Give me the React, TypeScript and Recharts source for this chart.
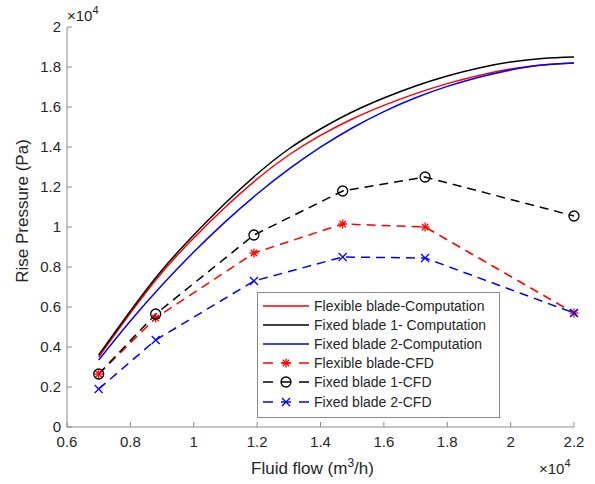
import { Legend, Line, LineChart, XAxis, YAxis } from "recharts";

// computation curves, read at 0.1e4 steps of flow
const flowGrid = [
  7000, 8000, 9000, 10000, 11000, 12000, 13000, 14000, 15000, 16000, 17000,
  18000, 19000, 20000, 21000, 22000,
];
const flexibleComputation = [
  3500, 5700, 7730, 9450, 11000, 12400, 13600, 14580, 15400, 16080, 16670,
  17170, 17580, 17900, 18100, 18200,
];
const fixed1Computation = [
  3600, 5800, 7850, 9600, 11200, 12650, 13900, 14900, 15750, 16450, 17050,
  17550, 17950, 18250, 18430, 18500,
];
const fixed2Computation = [
  3350, 5300, 7100, 8750, 10270, 11650, 12890, 13990, 14950, 15770, 16460,
  17030, 17490, 17850, 18100, 18200,
];

// CFD points
const cfdFlow = [7000, 8800, 11900, 14700, 17300, 22000];
const flexibleCfd = [2650, 5450, 8700, 10150, 10000, 5700];
const fixed1Cfd = [2650, 5650, 9600, 11800, 12500, 10550];
const fixed2Cfd = [1900, 4350, 7300, 8500, 8450, 5700];

const xTicks = [6000, 8000, 10000, 12000, 14000, 16000, 18000, 20000, 22000];
const yTicks = [0, 2000, 4000, 6000, 8000, 10000, 12000, 14000, 16000, 18000, 20000];

const FONT = "'Liberation Sans', Arial, Helvetica, sans-serif";
const TEXT = "#262626";
const AXIS = "#8a8a8a";
const TICK_MARGIN = 6;
const TICK_LEN = 5;

const toRows = (xs: number[], ys: number[]) =>
  xs.map((x, i) => ({ x, y: ys[i] }));

type MarkerKind = "none" | "star" | "circle" | "cross";

function Marker({
  kind,
  cx,
  cy,
  color,
}: {
  kind: MarkerKind;
  cx: number;
  cy: number;
  color: string;
}) {
  if (kind === "circle") {
    return (
      <circle cx={cx} cy={cy} r={5} fill="none" stroke={color} strokeWidth={1.3} />
    );
  }
  if (kind === "cross") {
    const r = 4;
    return (
      <g stroke={color} strokeWidth={1.3}>
        <line x1={cx - r} y1={cy - r} x2={cx + r} y2={cy + r} />
        <line x1={cx - r} y1={cy + r} x2={cx + r} y2={cy - r} />
      </g>
    );
  }
  if (kind === "star") {
    const r = 4.5;
    const d = r * 0.72;
    return (
      <g stroke={color} strokeWidth={1.3}>
        <line x1={cx - r} y1={cy} x2={cx + r} y2={cy} />
        <line x1={cx} y1={cy - r} x2={cx} y2={cy + r} />
        <line x1={cx - d} y1={cy - d} x2={cx + d} y2={cy + d} />
        <line x1={cx - d} y1={cy + d} x2={cx + d} y2={cy - d} />
      </g>
    );
  }
  return null;
}

const series = [
  {
    name: "Flexible blade-Computation",
    color: "#ff0000",
    dashed: false,
    marker: "none" as MarkerKind,
    rows: toRows(flowGrid, flexibleComputation),
  },
  {
    name: "Fixed blade 1- Computation",
    color: "#000000",
    dashed: false,
    marker: "none" as MarkerKind,
    rows: toRows(flowGrid, fixed1Computation),
  },
  {
    name: "Fixed blade 2-Computation",
    color: "#0000ff",
    dashed: false,
    marker: "none" as MarkerKind,
    rows: toRows(flowGrid, fixed2Computation),
  },
  {
    name: "Flexible blade-CFD",
    color: "#ff0000",
    dashed: true,
    marker: "star" as MarkerKind,
    rows: toRows(cfdFlow, flexibleCfd),
  },
  {
    name: "Fixed blade 1-CFD",
    color: "#000000",
    dashed: true,
    marker: "circle" as MarkerKind,
    rows: toRows(cfdFlow, fixed1Cfd),
  },
  {
    name: "Fixed blade 2-CFD",
    color: "#0000ff",
    dashed: true,
    marker: "cross" as MarkerKind,
    rows: toRows(cfdFlow, fixed2Cfd),
  },
];

const fmt = (v: number) => String(v / 10000);

function YTick(props: any) {
  const { x, y, payload } = props;
  const ax = x + TICK_MARGIN;
  return (
    <g>
      <line x1={ax} y1={y} x2={ax + TICK_LEN} y2={y} stroke={AXIS} />
      <text
        x={x}
        y={y}
        dy="0.36em"
        textAnchor="end"
        fill={TEXT}
        fontSize={15}
        fontFamily={FONT}
      >
        {fmt(payload.value)}
      </text>
    </g>
  );
}

function XTick(props: any) {
  const { x, y, payload } = props;
  const ay = y - TICK_MARGIN;
  return (
    <g>
      <line x1={x} y1={ay} x2={x} y2={ay - TICK_LEN} stroke={AXIS} />
      <text
        x={x}
        y={y}
        dy="0.9em"
        textAnchor="middle"
        fill={TEXT}
        fontSize={15}
        fontFamily={FONT}
      >
        {fmt(payload.value)}
      </text>
    </g>
  );
}

function Exponent({ x, y }: { x: number; y: number }) {
  return (
    <text x={x} y={y} fill={TEXT} fontSize={15} fontFamily={FONT}>
      ×10
      <tspan dy={-7} fontSize={11}>
        4
      </tspan>
    </text>
  );
}

function YLabel(props: any) {
  const { x, y, width, height } = props.viewBox;
  const cx = x + 22;
  const cy = y + height / 2 - 16;
  return (
    <g>
      <text
        x={cx}
        y={cy}
        transform={`rotate(-90 ${cx} ${cy})`}
        textAnchor="middle"
        dominantBaseline="central"
        fill={TEXT}
        fontSize={17}
        fontFamily={FONT}
      >
        Rise Pressure (Pa)
      </text>
      <Exponent x={x + width} y={y - 6} />
    </g>
  );
}

function XLabel(props: any) {
  const { x, y, width } = props.viewBox;
  return (
    <g>
      <text
        x={x + width / 2 - 8}
        y={y + 47}
        textAnchor="middle"
        fill={TEXT}
        fontSize={17}
        fontFamily={FONT}
      >
        Fluid flow (m
        <tspan dy={-7} fontSize={12}>
          3
        </tspan>
        <tspan dy={7}>/h)</tspan>
      </text>
      <Exponent x={x + width - 35} y={y + 47} />
    </g>
  );
}

function LegendBox() {
  return (
    <div
      style={{
        background: "#fff",
        border: `1px solid ${AXIS}`,
        padding: "3px 0 3px 4px",
        fontFamily: FONT,
        fontSize: 14,
        color: TEXT,
        boxSizing: "border-box",
        width: 243,
        height: 126,
      }}
    >
      {series.map((s) => (
        <div
          key={s.name}
          style={{ display: "flex", alignItems: "center", height: 19.2 }}
        >
          <svg width={52} height={14} style={{ flex: "none" }}>
            <line
              x1={1}
              y1={7}
              x2={47}
              y2={7}
              stroke={s.color}
              strokeWidth={1.5}
              strokeDasharray={s.dashed ? "10 8" : undefined}
            />
            <Marker kind={s.marker} cx={24} cy={7} color={s.color} />
          </svg>
          <span style={{ whiteSpace: "nowrap" }}>{s.name}</span>
        </div>
      ))}
    </div>
  );
}

export default function App() {
  return (
    <div style={{ position: "absolute", left: 0, top: 0, background: "#fff" }}>
      <LineChart
        width={595}
        height={484}
        margin={{ top: 27, right: 21, bottom: 0, left: 0 }}
      >
        <XAxis
          dataKey="x"
          type="number"
          domain={[6000, 22000]}
          ticks={xTicks}
          interval={0}
          height={57}
          tickSize={0}
          tickMargin={TICK_MARGIN}
          tickLine={false}
          axisLine={{ stroke: AXIS }}
          tick={XTick}
          label={XLabel}
        />
        <YAxis
          type="number"
          domain={[0, 20000]}
          ticks={yTicks}
          interval={0}
          width={67}
          tickSize={0}
          tickMargin={TICK_MARGIN}
          tickLine={false}
          axisLine={{ stroke: AXIS }}
          tick={YTick}
          label={YLabel}
        />
        {series.map((s) => (
          <Line
            key={s.name}
            data={s.rows}
            dataKey="y"
            name={s.name}
            type={s.dashed ? "linear" : "natural"}
            stroke={s.color}
            strokeWidth={1.5}
            strokeDasharray={s.dashed ? "9 6" : undefined}
            dot={
              s.marker === "none"
                ? false
                : (p: any) => (
                    <Marker
                      key={`${s.name}-${p.index}`}
                      kind={s.marker}
                      cx={p.cx}
                      cy={p.cy}
                      color={s.color}
                    />
                  )
            }
            activeDot={false}
            isAnimationActive={false}
          />
        ))}
        <Legend
          layout="vertical"
          align="center"
          verticalAlign="middle"
          content={() => <LegendBox />}
          wrapperStyle={{ left: 257, top: 292, width: 243, height: 126 }}
        />
      </LineChart>
    </div>
  );
}
